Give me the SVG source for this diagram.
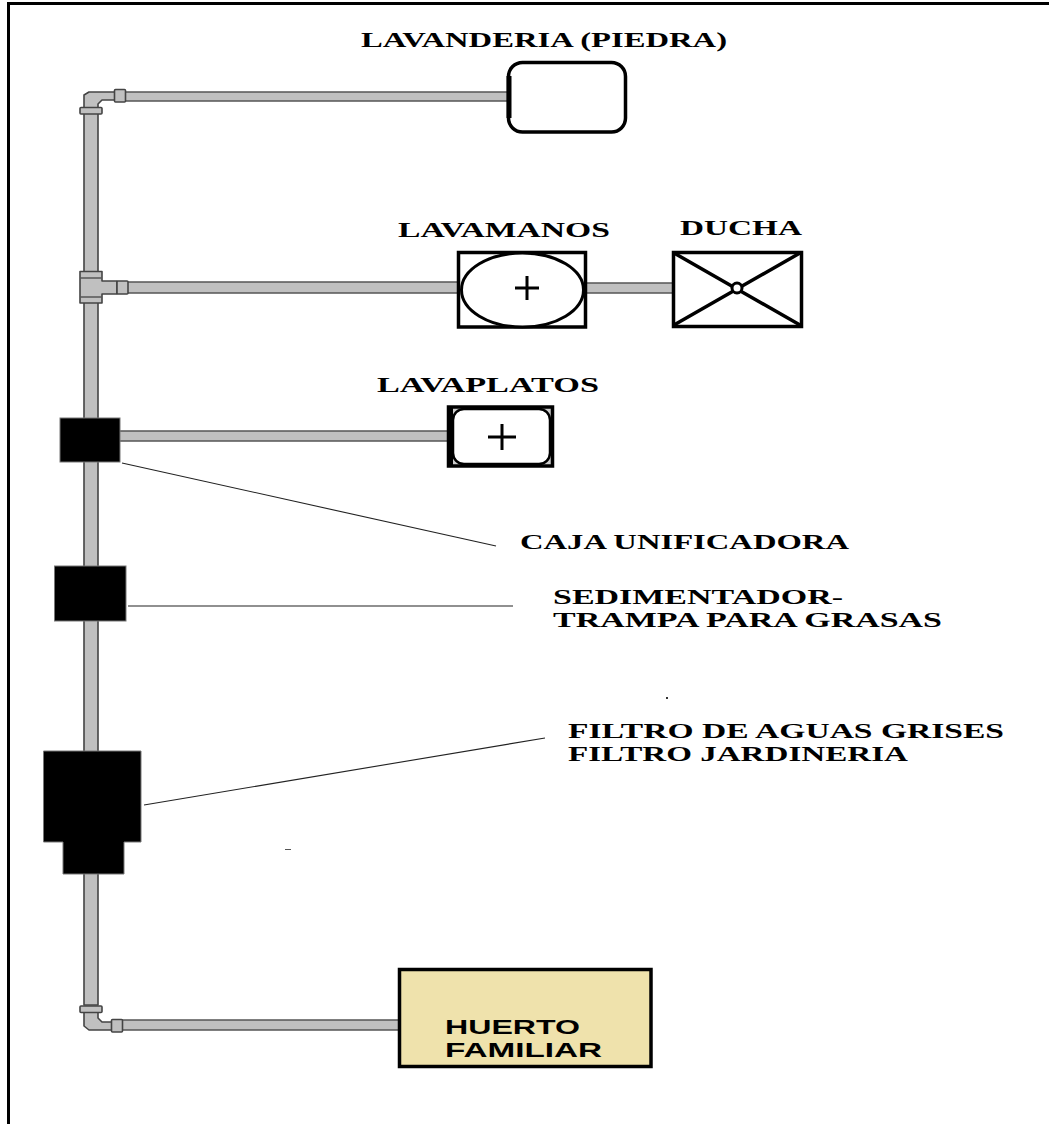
<svg xmlns="http://www.w3.org/2000/svg" width="1049" height="1124" viewBox="0 0 1049 1124">
<style>
.pipe{fill:#c0c0c0;stroke:#444;stroke-width:1.6;stroke-linejoin:round}
.hp{fill:#c0c0c0}
.hl{stroke:#555;stroke-width:1.4;fill:none}
.sol{fill:#000;stroke:#777;stroke-width:1}
.lead{stroke:#222;stroke-width:1.1;fill:none}
.fix{fill:#fff;stroke:#000;stroke-width:3.5}
.lbl{font-family:"Liberation Serif","Times New Roman",serif;font-weight:bold;font-size:21px;fill:#000}
.san{font-family:"Liberation Sans",Arial,sans-serif;font-weight:bold;font-size:20.5px;fill:#000}
</style>
<rect width="1049" height="1124" fill="#fff"/>
<g id="frame"><path d="M8.500 1124V3.500H1049" fill="none" stroke="#000" stroke-width="3"/></g>
<g id="connectors">
<rect class="pipe" x="84" y="110" width="14" height="895"/>
<rect class="hp" x="126" y="92" width="382" height="9"/><path class="hl" d="M126 92H508M126 101H508"/>
<rect class="hp" x="128" y="282" width="332" height="11"/><path class="hl" d="M128 282H460M128 293H460"/>
<rect class="hp" x="587" y="283" width="86" height="10"/><path class="hl" d="M587 283H673M587 293H673"/>
<rect class="hp" x="120" y="431" width="329" height="10"/><path class="hl" d="M120 431H449M120 441H449"/>
<rect class="hp" x="122" y="1020" width="278" height="10"/><path class="hl" d="M122 1020H400M122 1030H400"/>
<path class="lead" d="M122 463L496 546"/>
<path class="lead" d="M128 606H513"/>
<path class="lead" d="M144 805L545 738"/>
</g>
<g id="fitting-top">
<path class="pipe" d="M84 108V95L89 92H115V100H102L98 104V108Z"/>
<rect class="pipe" x="114.500" y="89.500" width="11" height="12.500" rx="1"/>
<rect class="pipe" x="80" y="107.500" width="22" height="6.500" rx="1"/>
</g>
<g id="fitting-tee">
<path class="pipe" d="M80 271.500H102V281H117V294H102V303H80Z"/>
<path class="hl" d="M80 278H102M80 297H102"/>
<rect class="pipe" x="117" y="281" width="11" height="13" rx="1"/>
</g>
<g id="fitting-bottom">
<path class="pipe" d="M84 1010V1026L89 1030H112V1022H102L98 1018V1010Z"/>
<rect class="pipe" x="111.500" y="1019.500" width="11" height="12.500" rx="1"/>
<rect class="pipe" x="80" y="1006" width="22" height="6.500" rx="1"/>
</g>
<g id="lavanderia">
<rect class="fix" x="508.500" y="62.500" width="117" height="69.500" rx="14"/>
<path d="M509 76V118" stroke="#000" stroke-width="5"/>
<text class="lbl" x="361" y="47" textLength="366" lengthAdjust="spacingAndGlyphs">LAVANDERIA (PIEDRA)</text>
</g>
<g id="lavamanos">
<rect class="fix" x="458.500" y="252.500" width="127" height="74.500"/>
<ellipse cx="522.500" cy="290" rx="61" ry="37" fill="#fff" stroke="#000" stroke-width="3"/>
<path d="M515 288H539M527 276V300" stroke="#000" stroke-width="3"/>
<text class="lbl" x="398" y="237" textLength="212" lengthAdjust="spacingAndGlyphs">LAVAMANOS</text>
</g>
<g id="ducha">
<rect class="fix" x="673.500" y="252.500" width="128" height="74"/>
<path d="M674 253L800 325M800 253L674 325" stroke="#000" stroke-width="3.500"/>
<circle cx="737" cy="288" r="5" fill="#fff" stroke="#000" stroke-width="3"/>
<text class="lbl" x="680" y="235" textLength="122" lengthAdjust="spacingAndGlyphs">DUCHA</text>
</g>
<g id="lavaplatos">
<rect x="448.500" y="407" width="104" height="59" fill="#ccc" stroke="#000" stroke-width="3.500"/>
<rect x="453" y="409" width="97" height="55" rx="11" fill="#fff" stroke="#000" stroke-width="2.500"/>
<path d="M450 408V465" stroke="#000" stroke-width="6"/>
<path d="M488 437H516M502 424V450" stroke="#000" stroke-width="3"/>
<text class="lbl" x="377" y="392" textLength="222" lengthAdjust="spacingAndGlyphs">LAVAPLATOS</text>
</g>
<g id="caja-unificadora">
<rect class="sol" x="60" y="418" width="60" height="44"/>
<text class="lbl" x="520" y="549" textLength="329" lengthAdjust="spacingAndGlyphs">CAJA UNIFICADORA</text>
</g>
<g id="sedimentador">
<rect class="sol" x="54.500" y="566" width="71.500" height="55"/>
<text class="lbl" x="553" y="604" textLength="290" lengthAdjust="spacingAndGlyphs">SEDIMENTADOR-</text>
<text class="lbl" x="553" y="627" textLength="389" lengthAdjust="spacingAndGlyphs">TRAMPA PARA GRASAS</text>
</g>
<g id="filtro">
<path class="sol" d="M43.500 751H141V842H124V874H63V842H43.500Z"/>
<text class="lbl" x="568" y="738" textLength="436" lengthAdjust="spacingAndGlyphs">FILTRO DE AGUAS GRISES</text>
<text class="lbl" x="568" y="761" textLength="340" lengthAdjust="spacingAndGlyphs">FILTRO JARDINERIA</text>
</g>
<g id="huerto">
<rect x="399.500" y="969.500" width="251.500" height="97" fill="#efe2ac" stroke="#000" stroke-width="3.500"/>
<text class="san" x="445" y="1034" textLength="135" lengthAdjust="spacingAndGlyphs">HUERTO</text>
<text class="san" x="445" y="1057" textLength="157" lengthAdjust="spacingAndGlyphs">FAMILIAR</text>
</g>
<g id="specks">
<rect x="666" y="697" width="2" height="2" fill="#333"/>
<rect x="285" y="849" width="6" height="1" fill="#555"/>
</g>
</svg>
